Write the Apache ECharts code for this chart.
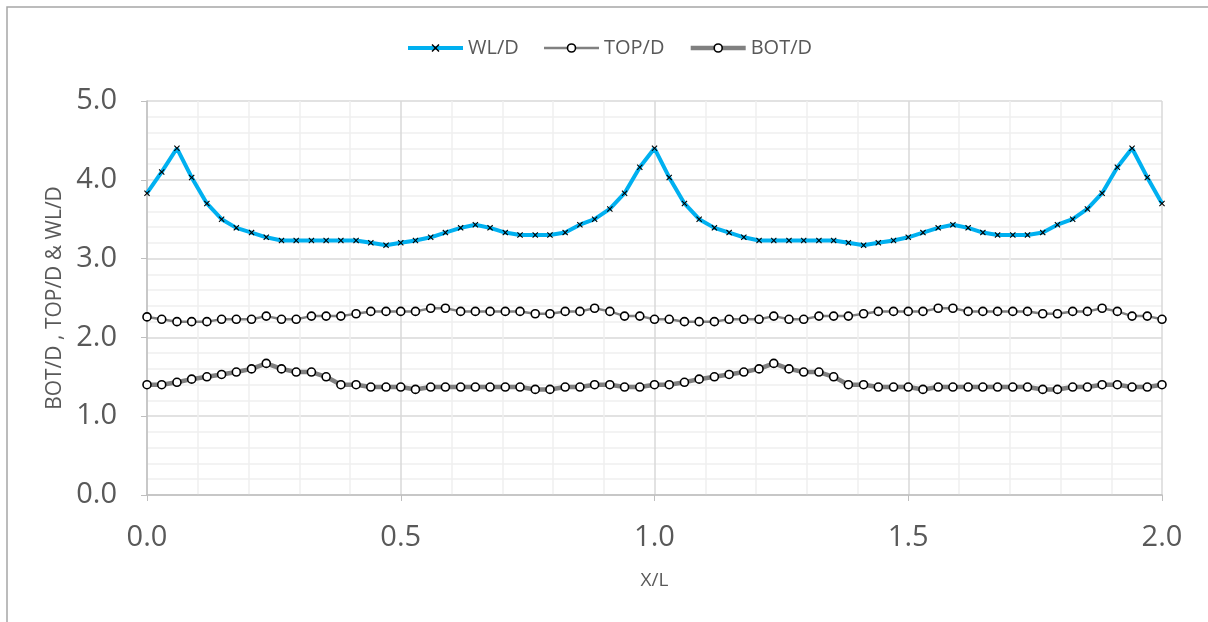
<!DOCTYPE html>
<html>
<head>
<meta charset="utf-8">
<script src="https://cdn.jsdelivr.net/npm/echarts@6/dist/echarts.min.js"></script>
<style>
html,body{margin:0;padding:0;background:#fff;}
#chart{width:1208px;height:622px;}
</style>
</head>
<body>
<div id="chart"></div>
<script>
// X/L positions (69 stations, step 1/34)
const xL = [0.000,0.029,0.059,0.088,0.118,0.147,0.176,0.206,0.235,0.265,0.294,0.324,0.353,0.382,0.412,0.441,0.471,0.500,
0.529,0.559,0.588,0.618,0.647,0.676,0.706,0.735,0.765,0.794,0.824,0.853,0.882,0.912,0.941,0.971,1.000,
1.029,1.059,1.088,1.118,1.147,1.176,1.206,1.235,1.265,1.294,1.324,1.353,1.382,1.412,1.441,1.471,1.500,
1.529,1.559,1.588,1.618,1.647,1.676,1.706,1.735,1.765,1.794,1.824,1.853,1.882,1.912,1.941,1.971,2.000];

const wlD = [3.83,4.10,4.40,4.03,3.70,3.50,3.39,3.33,3.27,3.23,3.23,3.23,3.23,3.23,3.23,3.20,3.17,3.20,
3.23,3.27,3.33,3.39,3.43,3.39,3.33,3.30,3.30,3.30,3.33,3.43,3.50,3.63,3.83,4.16,4.40,
4.03,3.70,3.50,3.39,3.33,3.27,3.23,3.23,3.23,3.23,3.23,3.23,3.20,3.17,3.20,3.23,3.27,
3.33,3.39,3.43,3.39,3.33,3.30,3.30,3.30,3.33,3.43,3.50,3.63,3.83,4.16,4.40,4.03,3.70];

const topD = [2.26,2.23,2.20,2.20,2.20,2.23,2.23,2.23,2.27,2.23,2.23,2.27,2.27,2.27,2.30,2.33,2.33,2.33,
2.33,2.37,2.37,2.33,2.33,2.33,2.33,2.33,2.30,2.30,2.33,2.33,2.37,2.33,2.27,2.27,2.23,
2.23,2.20,2.20,2.20,2.23,2.23,2.23,2.27,2.23,2.23,2.27,2.27,2.27,2.30,2.33,2.33,2.33,
2.33,2.37,2.37,2.33,2.33,2.33,2.33,2.33,2.30,2.30,2.33,2.33,2.37,2.33,2.27,2.27,2.23];

const botD = [1.40,1.40,1.43,1.47,1.50,1.53,1.56,1.60,1.67,1.60,1.56,1.56,1.50,1.40,1.40,1.37,1.37,1.37,
1.34,1.37,1.37,1.37,1.37,1.37,1.37,1.37,1.34,1.34,1.37,1.37,1.40,1.40,1.37,1.37,1.40,
1.40,1.43,1.47,1.50,1.53,1.56,1.60,1.67,1.60,1.56,1.56,1.50,1.40,1.40,1.37,1.37,1.37,
1.34,1.37,1.37,1.37,1.37,1.37,1.37,1.37,1.34,1.34,1.37,1.37,1.40,1.40,1.37,1.37,1.40];

const seriesNames = ['WL/D','TOP/D','BOT/D'];
const xTitle = 'X/L';
const yTitle = 'BOT/D , TOP/D & WL/D';

const pair = arr => arr.map((v,i)=>[xL[i], v]);
const font = '"Open Sans", "Noto Sans", sans-serif';
const crossPath = 'path://M0,1.3L1.3,0L5,3.7L8.7,0L10,1.3L6.3,5L10,8.7L8.7,10L5,6.3L1.3,10L0,8.7L3.7,5Z';

const wlLine = {color:'#00b0f0', width:4};
const topLine = {color:'#808080', width:2.5};
const botLine = {color:'#808080', width:4.5};
const circleStyle = {color:'#fff', borderColor:'#000', borderWidth:1.6};

const chart = echarts.init(document.getElementById('chart'), null, {renderer:'canvas'});
chart.setOption({
  animation:false,
  backgroundColor:'#fff',
  graphic:[{type:'polyline', shape:{points:[[7,640],[7,7],[1230,7]]}, style:{fill:null,stroke:'#a6a6a6',lineWidth:1.5}, silent:true}],
  legend:{
    top:33, left:401, itemGap:24, itemWidth:55, itemHeight:10,
    textStyle:{color:'#595959', fontSize:20, fontFamily:font},
    data:[
      {name:seriesNames[0], itemStyle:{color:'#000'}, lineStyle:wlLine},
      {name:seriesNames[1], itemStyle:circleStyle, lineStyle:topLine},
      {name:seriesNames[2], itemStyle:circleStyle, lineStyle:botLine}
    ]
  },
  grid:{left:147, right:46, top:101, bottom:127, containLabel:false},
  xAxis:{
    type:'value', min:0, max:2, interval:0.5,
    name:xTitle, nameLocation:'middle', nameGap:76,
    nameTextStyle:{color:'#595959', fontSize:19, fontFamily:font},
    axisLine:{lineStyle:{color:'#bfbfbf', width:1.5}},
    axisTick:{show:true, length:6, lineStyle:{color:'#bfbfbf'}},
    axisLabel:{color:'#595959', fontSize:29, fontFamily:font, margin:28, formatter:v=>v.toFixed(1)},
    splitLine:{show:true, lineStyle:{color:'#d9d9d9', width:1.5}},
    minorTick:{show:false, splitNumber:5},
    minorSplitLine:{show:true, lineStyle:{color:'#efefef', width:1.5}}
  },
  yAxis:{
    type:'value', min:0, max:5, interval:1,
    name:yTitle, nameLocation:'middle', nameGap:80,
    nameTextStyle:{color:'#595959', fontSize:21, fontFamily:font},
    axisLine:{show:true, lineStyle:{color:'#bfbfbf', width:1.5}},
    axisTick:{show:true, length:6, lineStyle:{color:'#bfbfbf'}},
    axisLabel:{color:'#595959', fontSize:29, fontFamily:font, margin:30, formatter:v=>v.toFixed(1)},
    splitLine:{show:true, lineStyle:{color:'#d9d9d9', width:1.5}},
    minorTick:{show:false, splitNumber:5},
    minorSplitLine:{show:true, lineStyle:{color:'#efefef', width:1.5}}
  },
  series:[
    {name:seriesNames[0], type:'line', data:pair(wlD), z:4,
     lineStyle:wlLine, itemStyle:{color:'#000'},
     symbol:crossPath, symbolSize:6, showAllSymbol:true},
    {name:seriesNames[1], type:'line', data:pair(topD), z:3,
     lineStyle:topLine, itemStyle:circleStyle,
     symbol:'circle', symbolSize:8, showAllSymbol:true},
    {name:seriesNames[2], type:'line', data:pair(botD), z:3,
     lineStyle:botLine, itemStyle:circleStyle,
     symbol:'circle', symbolSize:8, showAllSymbol:true}
  ]
});
</script>
</body>
</html>
